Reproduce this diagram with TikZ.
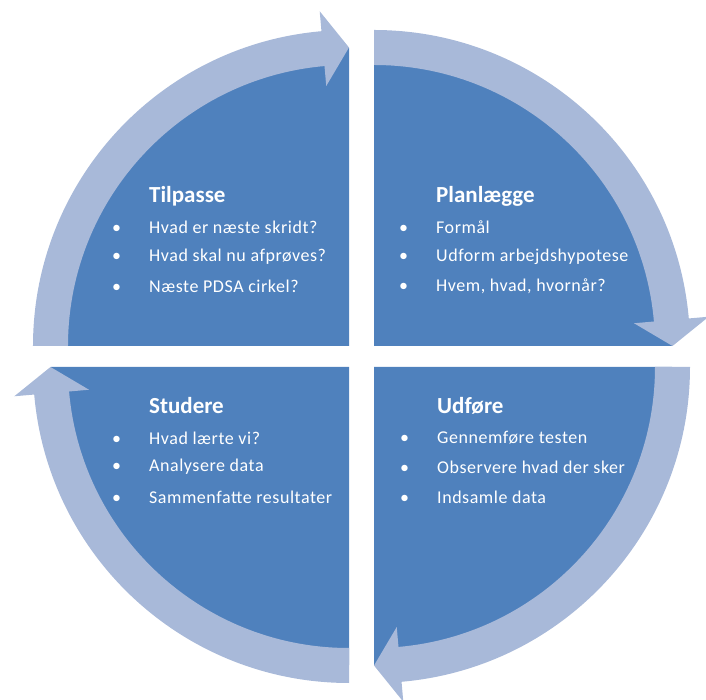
\documentclass[tikz,border=0pt]{standalone}
\usepackage{fontspec}
\setmainfont{Carlito}
\definecolor{pdsamork}{RGB}{79,129,189}
\definecolor{pdsalys}{RGB}{168,185,217}
\newcommand{\prik}{\makebox[37pt][l]{\textbullet}}

\tikzset{
  kvadrant/.style={fill=pdsamork},
  pil/.style={fill=pdsalys},
  titel/.style={anchor=west, inner sep=0pt, text=white, font=\fontsize{23}{26}\selectfont\bfseries},
  punkt/.style={anchor=west, inner sep=0pt, text=white, font=\fontsize{18}{21}\selectfont\addfontfeature{LetterSpace=3}},
}

\begin{document}
\begin{tikzpicture}[x=1pt, y=1pt]
    \useasboundingbox (-361.5,-343.5) rectangle (344.5,356.5);
    % quarter discs with their arrows
    \foreach \dx/\dy/\a/\b in {-12.5/10.5/180/90, 12.5/10.5/90/0, 12.5/-10.5/0/-90, -12.5/-10.5/-90/-180}{
      \begin{scope}[shift={(\dx,\dy)}]
        \fill[kvadrant] (0,0) -- (\a:298) arc[start angle=\a, end angle=\b, radius=298] -- cycle;
        \fill[pil] (\a:316) arc[start angle=\a, end angle=\b+5, radius=316] -- (\b+5:336) -- (\b:298.5)
          -- (\b+5:261) -- (\b+5:281) arc[start angle=\b+5, end angle=\a, radius=281] -- cycle;
      \end{scope}
    }
    % Tilpasse
    \node[titel] (tilpasse) at (-212.5,160.5) {Tilpasse};
    \node[punkt] (tilpasse1) at (-249.5,129.5) {\prik Hvad er næste skridt?};
    \node[punkt] (tilpasse2) at (-249.5,99.5) {\prik Hvad skal nu afprøves?};
    \node[punkt] (tilpasse3) at (-249.5,70.5) {\prik Næste PDSA cirkel?};
    % Planlægge
    \node[titel] (planlaegge) at (74.5,160.5) {Planlægge};
    \node[punkt] (planlaegge1) at (37.5,129.5) {\prik Formål};
    \node[punkt] (planlaegge2) at (37.5,99.5) {\prik Udform arbejdshypotese};
    \node[punkt] (planlaegge3) at (37.5,70.5) {\prik Hvem, hvad, hvornår?};
    % Studere
    \node[titel] (studere) at (-212.5,-49.5) {Studere};
    \node[punkt] (studere1) at (-249.5,-81.5) {\prik Hvad lærte vi?};
    \node[punkt] (studere2) at (-249.5,-110.5) {\prik Analysere data};
    \node[punkt] (studere3) at (-249.5,-140.5) {\prik Sammenfatte resultater};
    % Udføre
    \node[titel] (udfoere) at (75.5,-49.5) {Udføre};
    \node[punkt] (udfoere1) at (38.5,-81.5) {\prik Gennemføre testen};
    \node[punkt] (udfoere2) at (38.5,-110.5) {\prik Observere hvad der sker};
    \node[punkt] (udfoere3) at (38.5,-140.5) {\prik Indsamle data};
\end{tikzpicture}
\end{document}
